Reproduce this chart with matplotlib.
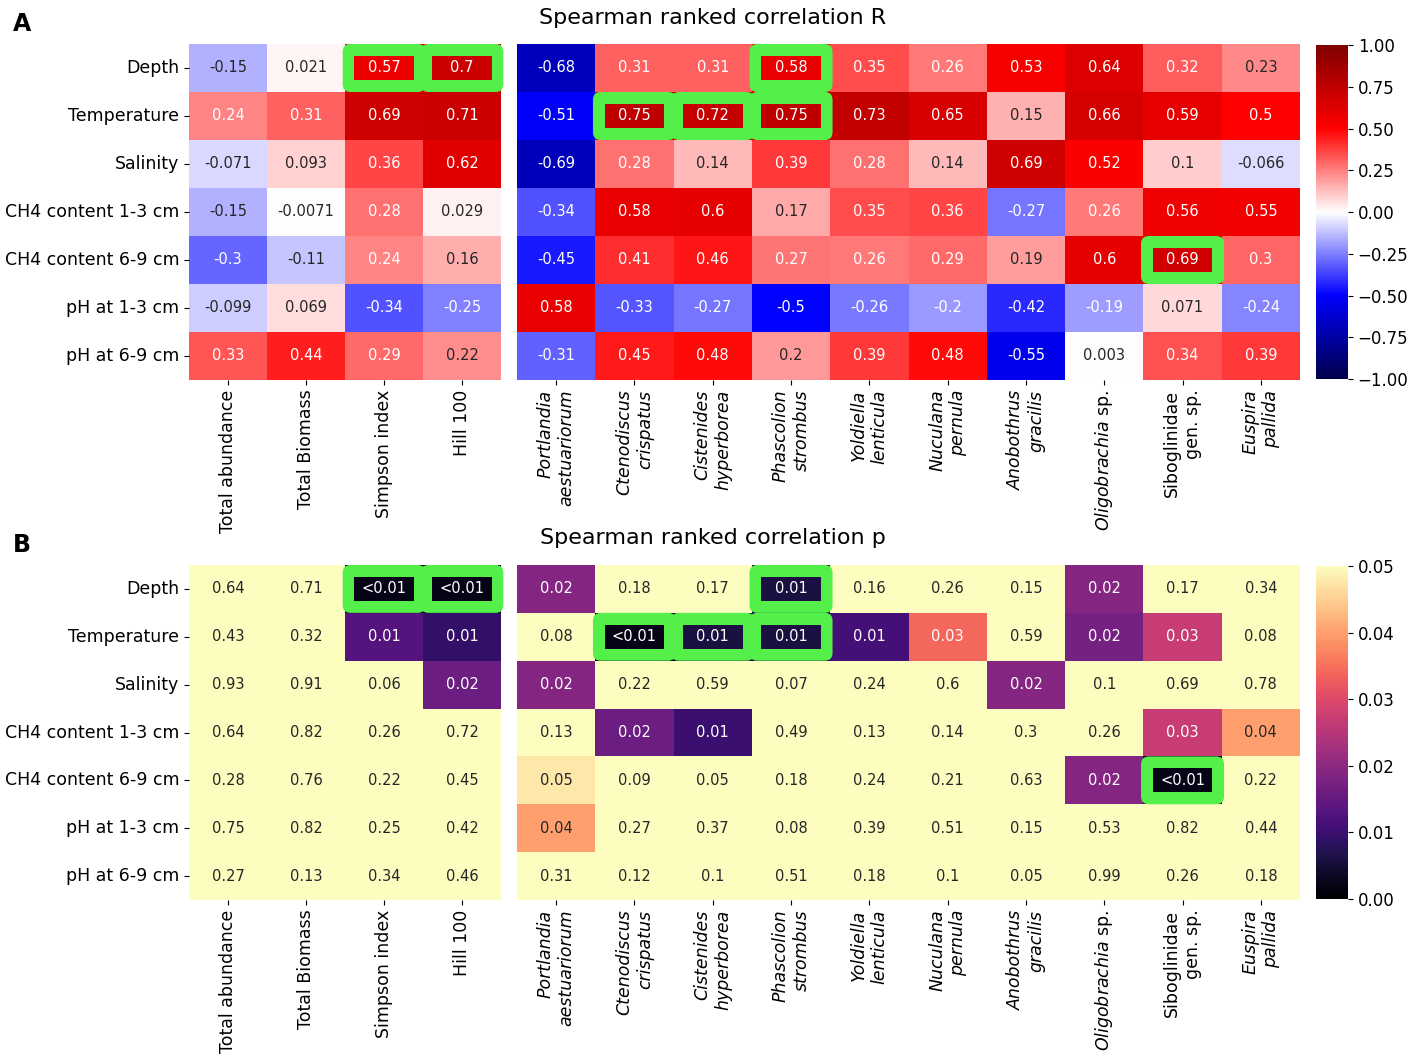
import numpy as np
import matplotlib as mpl
import matplotlib.pyplot as plt
import seaborn as sns
from matplotlib.patches import FancyBboxPatch, Rectangle

# rows of both heatmaps
env_vars = ["Depth", "Temperature", "Salinity", "CH4 content 1-3 cm",
            "CH4 content 6-9 cm", "pH at 1-3 cm", "pH at 6-9 cm"]

# left block: community indices
community_cols = ["Total abundance", "Total Biomass", "Simpson index", "Hill 100"]

# right block: species (italic names)
species_cols = ["Portlandia\naestuariorum", "Ctenodiscus\ncrispatus",
                "Cistenides\nhyperborea", "Phascolion\nstrombus",
                "Yoldiella\nlenticula", "Nuculana\npernula",
                "Anobothrus\ngracilis", r"$\it{Oligobrachia}$ sp.",
                "Siboglinidae\ngen. sp.", "Euspira\npallida"]
species_italic = [True, True, True, True, True, True, True, False, False, True]

# Spearman R
r_community = [
    [-0.15, 0.021, 0.57, 0.7],
    [0.24, 0.31, 0.69, 0.71],
    [-0.071, 0.093, 0.36, 0.62],
    [-0.15, -0.0071, 0.28, 0.029],
    [-0.3, -0.11, 0.24, 0.16],
    [-0.099, 0.069, -0.34, -0.25],
    [0.33, 0.44, 0.29, 0.22],
]
r_species = [
    [-0.68, 0.31, 0.31, 0.58, 0.35, 0.26, 0.53, 0.64, 0.32, 0.23],
    [-0.51, 0.75, 0.72, 0.75, 0.73, 0.65, 0.15, 0.66, 0.59, 0.5],
    [-0.69, 0.28, 0.14, 0.39, 0.28, 0.14, 0.69, 0.52, 0.1, -0.066],
    [-0.34, 0.58, 0.6, 0.17, 0.35, 0.36, -0.27, 0.26, 0.56, 0.55],
    [-0.45, 0.41, 0.46, 0.27, 0.26, 0.29, 0.19, 0.6, 0.69, 0.3],
    [0.58, -0.33, -0.27, -0.5, -0.26, -0.2, -0.42, -0.19, 0.071, -0.24],
    [-0.31, 0.45, 0.48, 0.2, 0.39, 0.48, -0.55, 0.003, 0.34, 0.39],
]

# Spearman p (small values)
p_community = [
    [0.64, 0.71, 0.002, 0.002],
    [0.43, 0.32, 0.013, 0.009],
    [0.93, 0.91, 0.06, 0.016],
    [0.64, 0.82, 0.26, 0.72],
    [0.28, 0.76, 0.22, 0.45],
    [0.75, 0.82, 0.25, 0.42],
    [0.27, 0.13, 0.34, 0.46],
]
p_species = [
    [0.019, 0.18, 0.17, 0.006, 0.16, 0.26, 0.15, 0.019, 0.17, 0.34],
    [0.08, 0.002, 0.006, 0.006, 0.011, 0.034, 0.59, 0.017, 0.027, 0.08],
    [0.019, 0.22, 0.59, 0.07, 0.24, 0.6, 0.019, 0.1, 0.69, 0.78],
    [0.13, 0.016, 0.01, 0.49, 0.13, 0.14, 0.3, 0.26, 0.027, 0.04],
    [0.0475, 0.09, 0.052, 0.18, 0.24, 0.21, 0.63, 0.019, 0.002, 0.22],
    [0.04, 0.27, 0.37, 0.08, 0.39, 0.51, 0.15, 0.53, 0.82, 0.44],
    [0.31, 0.12, 0.1, 0.51, 0.18, 0.1, 0.054, 0.99, 0.26, 0.18],
]

# significant cells, (row, column) over all 14 columns
highlight = [(0, 2), (0, 3), (0, 7), (1, 5), (1, 6), (1, 7), (4, 12)]

W, H = 1417, 1059
GREEN = "#55ef4a"


def px_axes(fig, x0, y0, x1, y1):
    return fig.add_axes([x0 / W, 1 - y1 / H, (x1 - x0) / W, (y1 - y0) / H])


def r_label(v):
    return format(v, ".2g")


def p_label(v):
    if v < 0.005:
        return "<0.01"
    return format(round(v, 2), "g")


def draw_block(ax, vals, fmt, cmap, vmin, vmax, xlabels, italic, show_y,
               col_offset, cell_aspect):
    vals = np.array(vals)
    labels = np.vectorize(fmt)(vals)
    sns.heatmap(vals, ax=ax, cmap=cmap, vmin=vmin, vmax=vmax, annot=labels,
                fmt="", cbar=False, annot_kws={"size": 10.5})
    norm = mpl.colors.Normalize(vmin, vmax)
    for (r, c) in highlight:
        c = c - col_offset
        if c < 0 or c >= vals.shape[1]:
            continue
        box = FancyBboxPatch((c - 0.03, r + 0.0), 1.06, 1.0,
                             boxstyle="round,pad=0,rounding_size=0.1",
                             mutation_aspect=cell_aspect,
                             facecolor=GREEN, edgecolor="none", zorder=2,
                             clip_on=False)
        ax.add_patch(box)
        inner = Rectangle((c + 0.12, r + 0.25), 0.76, 0.5,
                          facecolor=plt.get_cmap(cmap)(norm(vals[r, c])),
                          edgecolor="none", zorder=2.5)
        ax.add_patch(inner)
    ax.set_xticks(np.arange(len(xlabels)) + 0.5)
    ax.set_xticklabels(xlabels, rotation=90, fontsize=12.5,
                       multialignment="right")
    for t, it in zip(ax.get_xticklabels(), italic):
        if it:
            t.set_fontstyle("italic")
    if show_y:
        ax.set_yticks(np.arange(len(env_vars)) + 0.5)
        ax.set_yticklabels(env_vars, rotation=0, fontsize=12.5)
    else:
        ax.set_yticks([])


fig = plt.figure(figsize=(W / 100, H / 100), dpi=100)

panels = [
    (44, 380, r_community, r_species, r_label, "seismic", -1, 1,
     np.arange(-1, 1.01, 0.25), "Spearman ranked correlation R", 18, "A", 24),
    (565, 900, p_community, p_species, p_label, "magma", 0, 0.05,
     np.arange(0, 0.051, 0.01), "Spearman ranked correlation p", 538, "B", 545),
]

for (y0, y1, left_vals, right_vals, fmt, cmap, vmin, vmax, cticks,
     title, ty, letter, ly) in panels:
    cell_h = (y1 - y0) / 7
    ax_l = px_axes(fig, 189, y0, 501, y1)
    draw_block(ax_l, left_vals, fmt, cmap, vmin, vmax, community_cols,
               [False] * 4, True, 0, 78.0 / cell_h)
    ax_r = px_axes(fig, 517, y0, 1300, y1)
    draw_block(ax_r, right_vals, fmt, cmap, vmin, vmax, species_cols,
               species_italic, False, 4, 78.3 / cell_h)
    cax = px_axes(fig, 1316, y0 + 1, 1348, y1 - 1)
    cb = fig.colorbar(ax_r.collections[0], cax=cax, ticks=cticks)
    cb.outline.set_visible(False)
    cax.tick_params(labelsize=12)
    fig.text(713 / W, 1 - ty / H, title, ha="center", va="center", fontsize=16)
    fig.text(22 / W, 1 - ly / H, letter, ha="center", va="center",
             fontsize=17, fontweight="bold")

fig.savefig("out.png", dpi=100)
